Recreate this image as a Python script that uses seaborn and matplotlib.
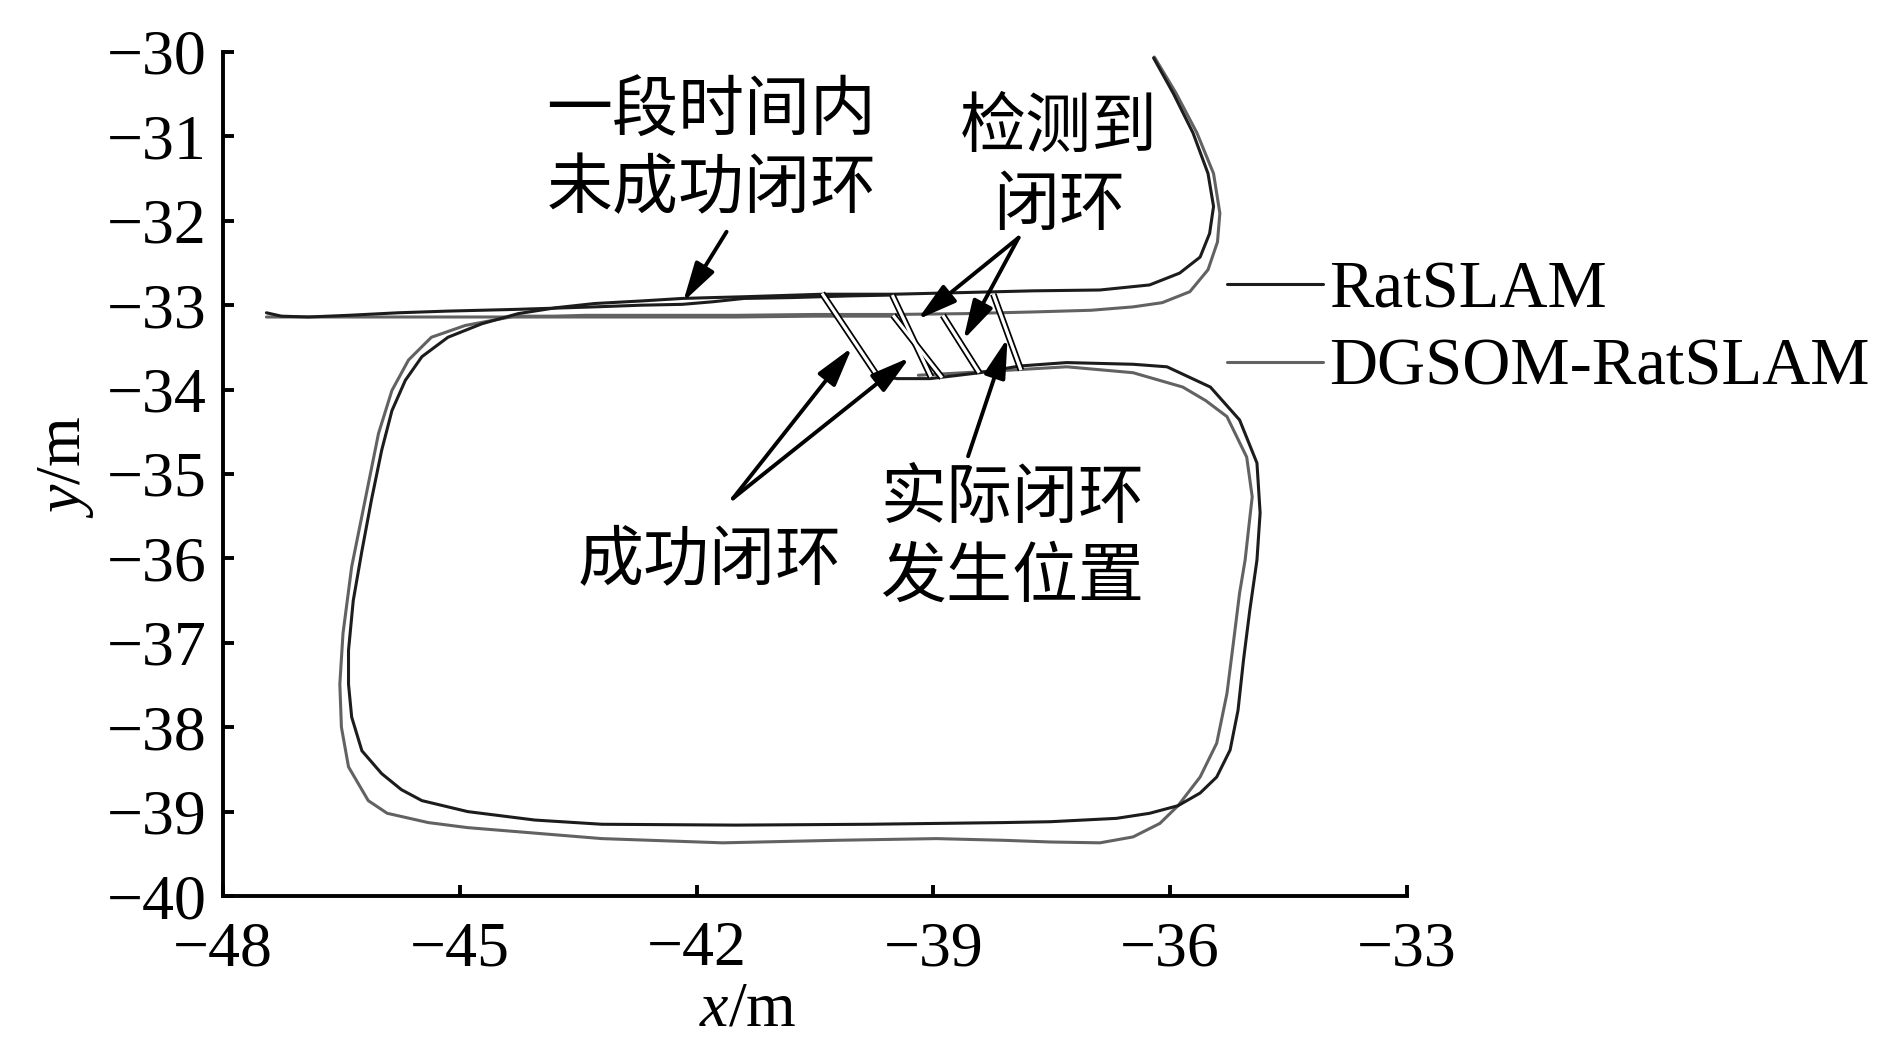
import matplotlib
matplotlib.use('Agg')
import matplotlib.pyplot as plt
import seaborn as sns
import numpy as np

# ---------------- data (metres) ----------------
# RatSLAM: first pass (start -> top road -> loop -> detected closure point)
rat1_x = [-36.21, -35.96, -35.71, -35.52, -35.45, -35.50, -35.62, -35.88, -36.26, -36.89,
          -37.74, -38.60, -39.50, -40.40, -41.40, -41.80, -42.18, -42.70, -43.29, -43.78,
          -44.26, -44.72, -45.15, -45.48, -45.69, -45.86, -45.99, -46.12, -46.24, -46.35,
          -46.41, -46.41, -46.37, -46.24, -45.99, -45.74, -45.48, -44.90, -44.05, -43.20,
          -41.50, -39.81, -38.11, -37.52, -36.68, -36.26, -35.90, -35.62, -35.41, -35.24,
          -35.14, -35.07, -34.99, -34.90, -34.86, -34.90, -35.12, -35.49, -36.04, -36.47,
          -37.31, -37.90, -38.41, -39.04, -39.46, -39.74]
rat1_y = [-30.07, -30.49, -30.96, -31.44, -31.83, -32.15, -32.43, -32.62, -32.76, -32.82,
          -32.83, -32.85, -32.87, -32.87, -32.90, -32.91, -32.92, -32.95, -32.98, -33.03,
          -33.10, -33.22, -33.38, -33.61, -33.89, -34.25, -34.72, -35.31, -35.91, -36.50,
          -37.09, -37.49, -37.88, -38.28, -38.55, -38.74, -38.87, -39.00, -39.10, -39.15,
          -39.16, -39.15, -39.13, -39.12, -39.08, -39.02, -38.93, -38.78, -38.59, -38.27,
          -37.80, -37.20, -36.61, -36.02, -35.46, -34.87, -34.36, -33.97, -33.73, -33.70,
          -33.68, -33.72, -33.80, -33.87, -33.87, -33.83]
# RatSLAM: second pass along the top road to the western dead end
rat2_x = [-39.52, -40.06, -40.80, -41.40, -41.80, -42.18, -42.70, -43.29, -44.30, -45.15,
          -45.78, -46.41, -46.92, -47.26, -47.45]
rat2_y = [-32.88, -32.89, -32.91, -32.92, -32.96, -32.99, -33.00, -33.02, -33.05, -33.07,
          -33.09, -33.12, -33.14, -33.13, -33.09]

# DGSOM-RatSLAM: first pass
dg1_x = [-36.20, -35.93, -35.66, -35.45, -35.37, -35.40, -35.52, -35.75, -36.10, -36.47,
         -37.00, -37.73, -38.60, -39.50, -40.50, -41.50, -42.50, -43.40, -43.80, -44.30,
         -44.93, -45.36, -45.65, -45.86, -46.03, -46.20, -46.37, -46.48, -46.52, -46.50,
         -46.41, -46.16, -45.92, -45.40, -44.90, -43.20, -41.67, -40.23, -38.96, -38.11,
         -37.52, -36.89, -36.47, -36.13, -35.90, -35.62, -35.41, -35.28, -35.20, -35.12,
         -35.05, -35.00, -34.96, -35.03, -35.28, -35.55, -35.84, -36.47, -37.31, -38.41,
         -39.19]
dg1_y = [-30.06, -30.48, -30.96, -31.44, -31.91, -32.25, -32.58, -32.84, -32.97, -33.02,
         -33.06, -33.08, -33.10, -33.11, -33.11, -33.12, -33.12, -33.12, -33.13, -33.13,
         -33.24, -33.38, -33.65, -34.01, -34.52, -35.31, -36.10, -36.89, -37.49, -38.00,
         -38.47, -38.87, -39.02, -39.13, -39.19, -39.32, -39.37, -39.34, -39.32, -39.34,
         -39.36, -39.37, -39.30, -39.14, -38.93, -38.59, -38.19, -37.60, -37.01, -36.41,
         -36.02, -35.60, -35.27, -34.80, -34.32, -34.13, -33.97, -33.80, -33.73, -33.79,
         -33.83]
# DGSOM-RatSLAM: second pass (after successful closure) along the top road
dg2_x = [-39.51, -40.50, -41.50, -42.50, -43.50, -44.50, -45.50, -46.50, -47.45]
dg2_y = [-33.13, -33.13, -33.14, -33.14, -33.14, -33.14, -33.14, -33.14, -33.14]

# loop-closure links (start on road, end on return leg)
link_x0 = [-40.41, -39.52, -39.51, -38.88, -38.24]
link_y0 = [-32.86, -32.88, -33.12, -33.12, -32.87]
link_x1 = [-39.73, -39.03, -38.89, -38.42, -37.89]
link_y1 = [-33.81, -33.85, -33.86, -33.80, -33.77]

series_names = ['RatSLAM', 'DGSOM-RatSLAM']
x_ticks = [-48, -45, -42, -39, -36, -33]
y_ticks = [-40, -39, -38, -37, -36, -35, -34, -33, -32, -31, -30]

# annotations: text, text centre, arrow tails, arrow heads
ann_texts = ['一段时间内\n未成功闭环', '检测到\n闭环', '成功闭环', '实际闭环\n发生位置']
ann_pos = [(-41.81, -31.17), (-37.41, -31.36), (-41.84, -36.03), (-38.00, -35.77)]
arrow_tail = [(-41.62, -32.13), (-37.92, -32.20), (-37.92, -32.20),
              (-41.54, -35.29), (-41.54, -35.29), (-38.56, -34.79)]
arrow_head = [(-42.17, -32.96), (-39.20, -33.17), (-38.62, -33.41),
              (-40.03, -33.50), (-39.30, -33.62), (-38.06, -33.39)]

# ---------------- style ----------------
sns.set_theme(style='ticks')
plt.rcParams['font.family'] = ['Liberation Serif', 'Noto Sans CJK SC']
plt.rcParams['mathtext.fontset'] = 'custom'
plt.rcParams['mathtext.it'] = 'Liberation Serif:italic'
plt.rcParams['mathtext.rm'] = 'Liberation Serif'
plt.rcParams['axes.unicode_minus'] = True
plt.rcParams['text.color'] = 'black'
plt.rcParams['axes.labelcolor'] = 'black'

c_rat = '#1c1c1c'
c_dg = '#626262'
lw = 2.2

fig = plt.figure(figsize=(18.9, 10.63), dpi=100)
ax = fig.add_axes([0.118, 0.1571, 0.6264, 0.794])

line_kw = dict(sort=False, estimator=None, lw=lw, ax=ax, legend=False,
               solid_joinstyle='round', solid_capstyle='round')
sns.lineplot(x=dg1_x, y=dg1_y, color=c_dg, label=series_names[1], **line_kw)
sns.lineplot(x=dg2_x, y=dg2_y, color=c_dg, **line_kw)
sns.lineplot(x=rat1_x, y=rat1_y, color=c_rat, label=series_names[0], **line_kw)
sns.lineplot(x=rat2_x, y=rat2_y, color=c_rat, **line_kw)

for x0, y0, x1, y1 in zip(link_x0, link_y0, link_x1, link_y1):
    ax.plot([x0, x1], [y0, y1], color='black', lw=4.8, solid_capstyle='butt', zorder=5)
    ax.plot([x0, x1], [y0, y1], color='white', lw=2.3, solid_capstyle='butt', zorder=6)

cjk = ['Noto Sans CJK SC', 'DejaVu Sans']
for t, (tx, ty) in zip(ann_texts, ann_pos):
    ax.text(tx, ty, t, ha='center', va='center', fontsize=47.5, family=cjk,
            linespacing=1.2, color='black')
for (tx, ty), (hx, hy) in zip(arrow_tail, arrow_head):
    ax.annotate('', xy=(hx, hy), xytext=(tx, ty),
                arrowprops=dict(arrowstyle='-|>,head_length=1.2,head_width=0.33',
                                color='black', lw=2.8, mutation_scale=20,
                                shrinkA=0, shrinkB=0), zorder=7)

ax.set_xlim(-48, -33)
ax.set_ylim(-40, -30)
ax.set_xticks(x_ticks)
ax.set_yticks(y_ticks)
ax.set_xticklabels([f'{v}'.replace('-', '\u2212') for v in x_ticks])
ax.set_yticklabels([f'{v}'.replace('-', '\u2212') for v in y_ticks])
sns.despine(ax=ax)
for s in ['left', 'bottom']:
    ax.spines[s].set_linewidth(2.8)
    ax.spines[s].set_color('black')
ax.tick_params(direction='in', length=8, width=2.8, colors='black', labelsize=46,
               labelcolor='black')
ax.tick_params(axis='y', pad=12)
ax.tick_params(axis='x', pad=18)

ax.set_xlabel(r'$x$/m', fontsize=46, color='black')
ax.set_ylabel(r'$y$/m', fontsize=46, color='black')
ax.xaxis.label.set_va('center')
ax.yaxis.label.set_va('center')
ax.xaxis.set_label_coords(0.443, -0.136)
ax.yaxis.set_label_coords(-0.133, 0.508)

handles, labels = ax.get_legend_handles_labels()
order = [labels.index(n) for n in series_names]
leg = fig.legend([handles[i] for i in order], [labels[i] for i in order],
                 loc='center left', bbox_to_anchor=(0.649, 0.690), frameon=False,
                 fontsize=48, handlelength=1.44, handletextpad=0.1, labelspacing=0.25,
                 borderpad=0, borderaxespad=0)
for txt in leg.get_texts():
    txt.set_color('black')

fig.savefig('out.png', dpi=100, facecolor='white')
